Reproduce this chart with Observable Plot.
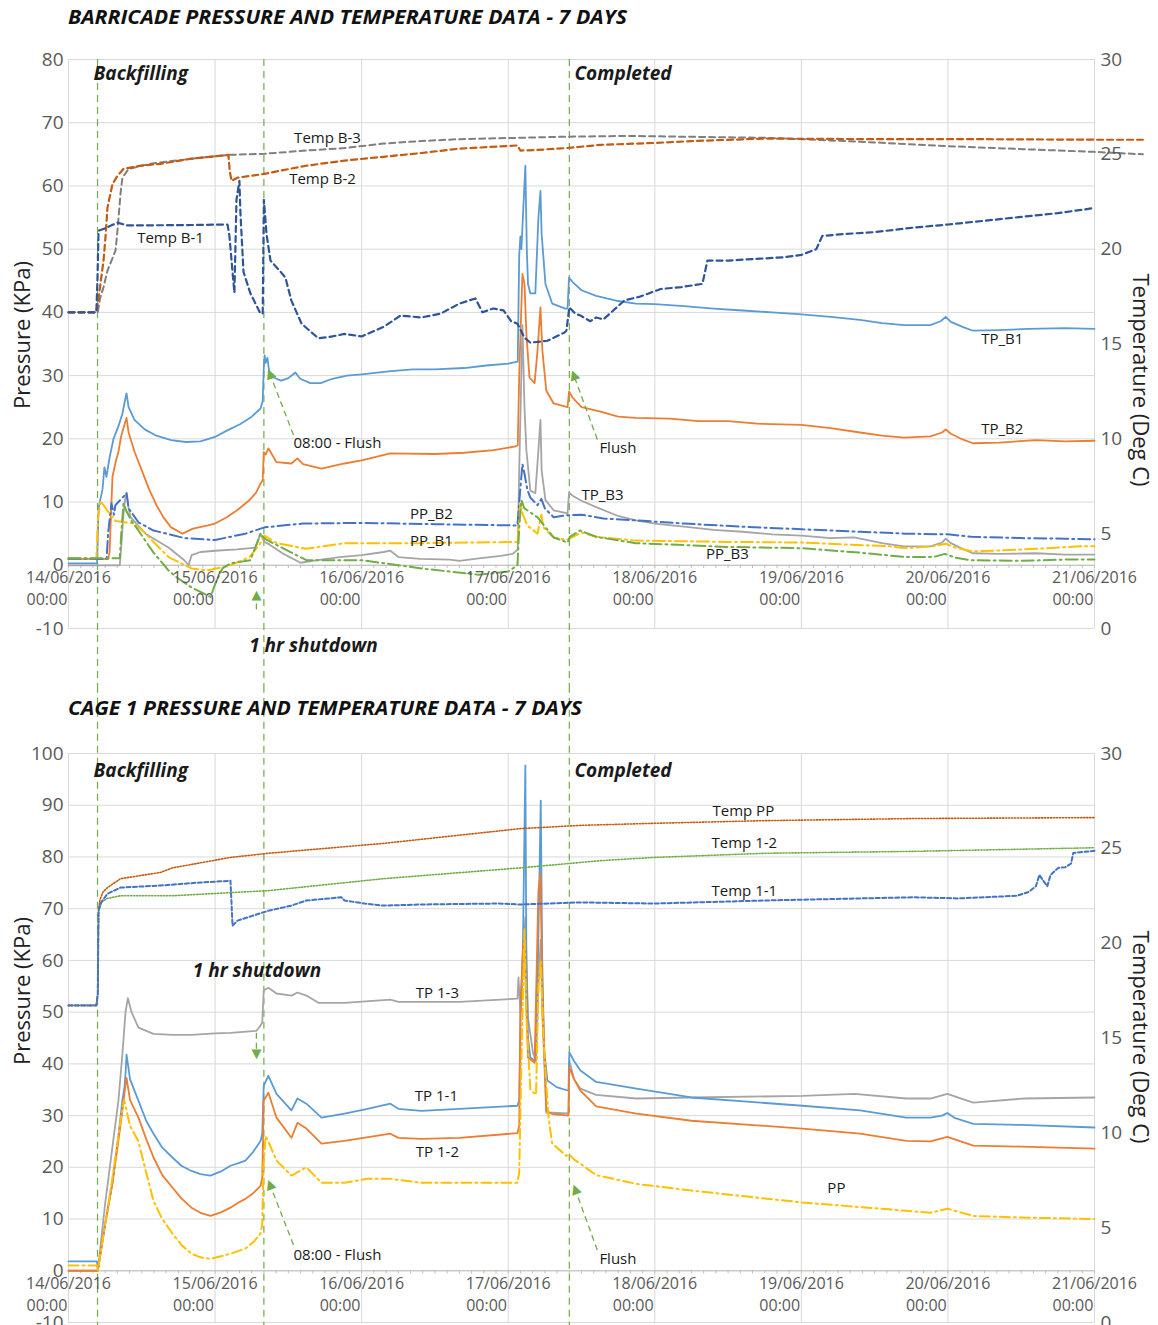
<!DOCTYPE html>
<html>
<head>
<meta charset="utf-8">
<script src="https://cdn.jsdelivr.net/npm/d3@7"></script>
<script src="https://cdn.jsdelivr.net/npm/@observablehq/plot@0.6"></script>
<style>
  body { margin: 0; background: #fff; }
  #wrap { position: relative; width: 1158px; height: 1325px; overflow: hidden; font-family: "Open Sans", sans-serif; }
  .title { position: absolute; left: 68px; font-weight: 700; font-style: italic; font-size: 20px; line-height: 1; color: #111; white-space: nowrap; transform-origin: left top; }
  #c1, #c2 { position: absolute; left: 0; }
  #c1 { top: 0; } #c2 { top: 690px; }
</style>
</head>
<body>
<div id="wrap">
  <div id="c1"></div>
  <div id="c2"></div>
  <div class="title" id="t1" style="top:7px">BARRICADE PRESSURE AND TEMPERATURE DATA - 7 DAYS</div>
  <div class="title" id="t2" style="top:698px">CAGE 1 PRESSURE AND TEMPERATURE DATA - 7 DAYS</div>
</div>
<script>
// ---------- time: days since 14/06/2016 00:00 ----------
const DAY0 = Date.UTC(2016, 5, 14);
const dt = t => new Date(DAY0 + t * 864e5);
const dayTicks = d3.range(0, 8).map(dt);
const minorTicks = d3.range(0, 7 * 12 + 1).map(i => dt(i / 12));
const events = [0.198, 1.333, 3.417]; // backfilling start, 08:00 flush, completed

// ---------- BARRICADE panel (pressure kPa, temperature °C) ----------
const TP_B1 = [[0,0.3],[0.195,0.3],[0.205,9],[0.218,10.5],[0.232,12],[0.245,15.5],[0.259,14],[0.28,17],[0.307,20],[0.341,22],[0.368,24],[0.389,26.5],[0.396,27.2],[0.41,25],[0.45,23],[0.52,21.5],[0.6,20.5],[0.7,19.8],[0.8,19.5],[0.9,19.6],[1.0,20.3],[1.08,21.3],[1.17,22.3],[1.25,23.5],[1.31,24.8],[1.325,26],[1.332,31],[1.338,33.2],[1.345,32],[1.357,32.8],[1.37,30.5],[1.4,29.7],[1.45,29.2],[1.5,29.6],[1.548,30.5],[1.58,29.5],[1.65,28.8],[1.72,28.8],[1.8,29.5],[1.9,30],[2.0,30.2],[2.2,30.7],[2.35,31],[2.5,31],[2.7,31.2],[2.85,31.6],[3.0,31.9],[3.065,32.2],[3.075,49],[3.083,52],[3.09,50],[3.1,55],[3.117,63.2],[3.127,49.8],[3.135,44.5],[3.151,43],[3.185,43],[3.206,55],[3.22,59.2],[3.228,52.4],[3.254,44.5],[3.3,41.4],[3.39,40.6],[3.405,40.6],[3.415,45.5],[3.44,44.8],[3.5,43.5],[3.6,42.6],[3.75,41.8],[3.87,41.4],[4.0,41.3],[4.2,41],[4.4,40.6],[4.6,40.3],[4.8,40],[5.0,39.7],[5.2,39.3],[5.4,38.8],[5.55,38.3],[5.7,38],[5.88,38],[5.95,38.6],[5.985,39.3],[6.02,38.5],[6.1,37.7],[6.17,37.1],[6.35,37.2],[6.55,37.4],[6.8,37.5],[7.0,37.4]];
const TP_B2 = [[0,1.0],[0.27,1.0],[0.28,2],[0.29,8],[0.3,14],[0.321,16.3],[0.341,18],[0.36,20.5],[0.385,22.5],[0.396,23.3],[0.41,21],[0.45,18],[0.5,15],[0.55,12],[0.6,9.5],[0.65,7.5],[0.7,6],[0.778,5],[0.85,5.8],[0.95,6.3],[1.0,6.6],[1.08,7.6],[1.15,8.7],[1.23,10.2],[1.28,11.5],[1.31,12.9],[1.325,13.5],[1.332,17.9],[1.345,17.5],[1.364,18.5],[1.419,16.3],[1.521,16.1],[1.562,16.9],[1.6,16],[1.726,15.3],[1.883,16.1],[2.0,16.6],[2.196,17.7],[2.5,17.6],[2.7,17.8],[2.9,18.2],[3.05,18.8],[3.065,19],[3.075,30],[3.083,36],[3.097,46.1],[3.111,44.5],[3.124,36.6],[3.145,29.7],[3.18,28.8],[3.2,34],[3.22,40.8],[3.233,34],[3.26,27.6],[3.31,25.6],[3.405,25],[3.415,27.5],[3.44,26.5],[3.5,25],[3.63,24.3],[3.75,23.5],[3.87,23.3],[4.1,23.2],[4.3,22.8],[4.5,22.8],[4.7,22.4],[5.0,22.2],[5.2,21.7],[5.4,21],[5.55,20.5],[5.7,20.2],[5.88,20.4],[5.96,21],[5.985,21.5],[6.02,20.8],[6.1,19.9],[6.17,19.3],[6.35,19.4],[6.6,19.8],[6.8,19.6],[7.0,19.7]];
const TP_B3 = [[0,0],[0.35,0],[0.36,3],[0.375,8],[0.389,11],[0.396,11.5],[0.41,9],[0.423,7.6],[0.525,5],[0.682,2.8],[0.79,0.8],[0.819,0],[0.84,1.6],[0.9,2.1],[1.0,2.3],[1.15,2.5],[1.276,2.8],[1.31,5],[1.32,4.5],[1.337,3.7],[1.37,3.3],[1.467,1.8],[1.583,0.4],[1.7,0.8],[1.85,1.3],[2.0,1.6],[2.15,2.1],[2.196,2.3],[2.251,1.3],[2.4,1.0],[2.6,0.9],[2.667,0.7],[2.8,1.1],[2.95,1.5],[3.03,1.8],[3.065,2.5],[3.075,15],[3.097,38],[3.111,25],[3.124,18.2],[3.151,11.8],[3.185,11.4],[3.206,18.2],[3.22,23],[3.228,15],[3.254,10.3],[3.31,8.7],[3.405,8.2],[3.415,11.5],[3.44,11],[3.5,10.2],[3.6,9.2],[3.75,7.8],[3.87,7.1],[4.0,6.6],[4.2,6.1],[4.4,5.6],[4.6,5.3],[4.8,4.9],[5.0,4.7],[5.2,4.3],[5.36,4.4],[5.55,3.5],[5.7,3],[5.88,3],[5.96,3.6],[5.985,4.2],[6.02,3.5],[6.1,2.6],[6.17,1.9],[6.35,1.8],[6.6,1.9],[6.8,1.7],[7.0,1.7]];
const PP_B2 = [[0,1.0],[0.26,1.0],[0.27,5],[0.293,9.8],[0.31,8],[0.32,9.5],[0.396,11.4],[0.41,9],[0.477,6.8],[0.58,5.5],[0.792,4.3],[1.0,4],[1.207,5],[1.337,6],[1.6,6.6],[2.0,6.7],[2.5,6.5],[3.063,6.3],[3.075,10],[3.097,16],[3.111,14.5],[3.13,12],[3.151,10.7],[3.2,9.5],[3.226,10.5],[3.25,9],[3.31,7.6],[3.397,7.9],[3.5,8],[3.65,7.4],[3.87,7.1],[4.2,6.6],[4.6,6.1],[5.0,5.7],[5.4,5.3],[5.71,5],[6.0,4.9],[6.16,4.5],[6.5,4.3],[6.8,4.2],[7.0,4.1]];
const PP_B1 = [[0,1.1],[0.19,1.1],[0.2,7],[0.218,10.2],[0.266,8.6],[0.321,7],[0.45,6.6],[0.525,5],[0.682,1.3],[0.839,-0.5],[0.95,-0.8],[1.105,0],[1.235,1.3],[1.31,3.5],[1.337,4.7],[1.419,3.5],[1.623,2.6],[1.883,3.5],[2.408,3.5],[3.063,3.7],[3.075,7],[3.083,9.8],[3.1,8],[3.13,6.3],[3.2,5],[3.226,8],[3.24,6],[3.31,4.4],[3.397,4],[3.42,4.2],[3.5,5.2],[3.6,4.5],[3.87,3.9],[4.2,3.8],[4.5,3.7],[5.0,3.6],[5.3,3.3],[5.6,3],[5.71,2.7],[5.9,3],[5.985,3.4],[6.05,2.8],[6.16,2.2],[6.3,2.3],[6.6,2.6],[6.9,3],[7.0,3.0]];
const PP_B3 = [[0,1.1],[0.35,1.1],[0.36,5],[0.375,9.8],[0.396,8.5],[0.43,7],[0.477,5.5],[0.58,2],[0.682,-0.8],[0.737,-1.9],[0.839,-3.5],[0.969,-5],[1.0,-3],[1.05,-0.5],[1.105,0.3],[1.241,0.8],[1.31,5],[1.337,4.2],[1.521,2],[1.623,0.8],[2.0,0.8],[2.408,-0.5],[2.8,-1.5],[3.0,-1],[3.063,0],[3.075,6],[3.09,10.3],[3.11,9],[3.2,7.6],[3.254,6],[3.31,4.4],[3.405,3.6],[3.42,4.5],[3.49,5.5],[3.6,4.5],[3.87,3.5],[4.2,3.2],[4.5,2.9],[5.0,2.7],[5.4,2],[5.71,1.3],[5.9,1.3],[5.98,1.8],[6.05,1.2],[6.16,0.8],[6.5,0.7],[6.8,0.9],[7.0,0.9]];
const TEMP_B1 = [[0,16.67],[0.19,16.67],[0.198,18.5],[0.205,20.97],[0.25,21.1],[0.334,21.4],[0.4,21.25],[0.8,21.27],[1.085,21.3],[1.098,20.7],[1.119,18.8],[1.132,17.7],[1.146,22.6],[1.166,23.6],[1.173,21.9],[1.194,18.8],[1.241,17.67],[1.31,16.6],[1.325,16.6],[1.333,22.6],[1.351,20.8],[1.378,19.4],[1.44,18.87],[1.48,18.5],[1.52,17.3],[1.59,16.07],[1.705,15.3],[1.8,15.4],[1.883,15.53],[2.0,15.4],[2.149,15.9],[2.265,16.5],[2.408,16.4],[2.538,16.6],[2.667,17.13],[2.776,17.4],[2.824,16.67],[2.897,16.87],[2.968,16.77],[3.02,16.2],[3.063,16.07],[3.111,15.33],[3.151,15.07],[3.267,15.17],[3.383,15.6],[3.397,15.7],[3.417,16.93],[3.458,16.6],[3.493,16.5],[3.56,16.2],[3.6,16.4],[3.65,16.3],[3.793,17.3],[3.9,17.5],[4.04,17.9],[4.18,18.0],[4.325,18.17],[4.359,19.4],[4.5,19.4],[4.72,19.5],[4.877,19.57],[5.0,19.7],[5.102,20.0],[5.143,20.7],[5.3,20.8],[5.5,20.9],[5.757,21.13],[6.0,21.3],[6.25,21.5],[6.5,21.7],[6.75,21.9],[7.0,22.17]];
const TEMP_B2 = [[0,16.67],[0.19,16.67],[0.205,17.4],[0.218,18.17],[0.239,19.4],[0.252,20.6],[0.266,22.2],[0.3,23.43],[0.334,23.87],[0.375,24.23],[0.491,24.4],[0.628,24.5],[0.839,24.77],[1.091,24.97],[1.1,24.13],[1.112,23.6],[1.153,23.77],[1.337,23.97],[1.44,24.13],[1.623,24.4],[1.883,24.67],[2.149,24.87],[2.408,25.07],[2.667,25.3],[3.063,25.47],[3.083,25.2],[3.192,25.23],[3.397,25.33],[3.629,25.5],[4.0,25.6],[4.25,25.7],[4.754,25.83],[5.5,25.8],[6.2,25.8],[7.0,25.77],[7.33,25.77]];
const TEMP_B3 = [[0,16.67],[0.2,16.67],[0.215,17.4],[0.239,18.0],[0.266,18.87],[0.321,19.93],[0.334,20.97],[0.355,22.93],[0.368,23.77],[0.41,24.23],[0.559,24.5],[0.839,24.77],[1.091,24.97],[1.337,25.03],[1.623,25.2],[1.883,25.33],[2.149,25.57],[2.408,25.7],[2.667,25.8],[3.063,25.87],[3.397,25.93],[3.8,25.97],[4.2,25.93],[4.754,25.87],[5.0,25.8],[5.5,25.63],[6.0,25.43],[6.52,25.27],[7.0,25.13],[7.33,25.0]];

// ---------- CAGE 1 panel ----------
const TP_1_1 = [[0,1.8],[0.195,1.8],[0.2,0],[0.25,9],[0.3,17],[0.34,26],[0.368,33],[0.382,35.5],[0.389,38],[0.396,41.8],[0.42,37],[0.477,32.9],[0.53,29],[0.58,26.5],[0.64,23.8],[0.709,21.9],[0.77,20.3],[0.839,19.3],[0.9,18.7],[0.969,18.4],[1.04,19.2],[1.105,20.3],[1.16,20.8],[1.207,21.3],[1.26,23],[1.31,25.1],[1.322,26.5],[1.332,35.8],[1.364,37.7],[1.419,34.2],[1.521,31],[1.562,33.3],[1.623,32.3],[1.726,29.6],[1.883,30.4],[2.04,31.3],[2.196,32.3],[2.251,31.3],[2.408,30.9],[2.667,31.3],[3.063,31.9],[3.075,33],[3.085,50],[3.1,62],[3.117,97.7],[3.124,60],[3.135,45],[3.151,41.2],[3.185,40.6],[3.2,55],[3.222,90.9],[3.232,60],[3.245,42.6],[3.267,36.8],[3.33,35.5],[3.411,34.8],[3.417,42.2],[3.45,40.5],[3.493,38.7],[3.6,36.5],[3.875,35.2],[4.25,33.5],[5.007,31.9],[5.4,31],[5.716,29.6],[5.88,29.6],[5.96,30],[5.996,30.5],[6.05,29.5],[6.173,28.4],[6.5,28.2],[7.0,27.7]];
const TP_1_2 = [[0,0],[0.2,0],[0.25,9],[0.3,17],[0.34,25],[0.368,31],[0.389,36],[0.396,37.3],[0.42,33],[0.477,29.6],[0.53,25.5],[0.58,21.9],[0.64,18.5],[0.709,16.1],[0.77,14],[0.839,12.2],[0.9,11.2],[0.969,10.6],[1.04,11.3],[1.105,12.2],[1.16,13.2],[1.207,13.9],[1.26,15],[1.31,16.4],[1.322,18],[1.332,32.9],[1.364,34.4],[1.419,29.6],[1.521,25.7],[1.562,28.6],[1.623,27.5],[1.726,24.6],[1.883,25.1],[2.196,26.5],[2.251,25.7],[2.408,25.5],[2.667,25.7],[3.063,26.6],[3.075,28],[3.083,50],[3.1,61.9],[3.111,64.4],[3.12,55],[3.135,41.2],[3.18,40.2],[3.206,73.5],[3.22,76.8],[3.232,55],[3.26,30.9],[3.3,30.3],[3.411,30],[3.417,39.3],[3.45,37],[3.493,34.8],[3.6,31.8],[3.875,30.4],[4.25,29],[5.007,27.5],[5.4,26.5],[5.716,25.1],[5.88,25],[5.996,25.9],[6.173,24.2],[6.5,24],[7.0,23.6]];
const TP_1_3 = [[0,0],[0.2,0],[0.25,13],[0.3,24],[0.341,33],[0.368,42],[0.389,50],[0.405,52.7],[0.43,50],[0.477,47],[0.58,45.8],[0.709,45.6],[0.839,45.6],[1.0,45.9],[1.105,46],[1.282,46.4],[1.31,47.4],[1.322,48],[1.332,54.2],[1.364,54.7],[1.419,53.6],[1.521,53.2],[1.562,53.8],[1.623,53.2],[1.705,51.8],[1.883,51.8],[2.196,52.4],[2.251,52],[2.667,52],[3.063,52.6],[3.07,56.7],[3.083,50],[3.1,60],[3.117,68.3],[3.135,48.9],[3.17,42],[3.19,40.6],[3.206,55],[3.222,64],[3.232,50],[3.26,30.6],[3.411,30.4],[3.417,40.6],[3.45,37],[3.493,35.2],[3.6,34],[3.875,33.3],[4.25,33.5],[5.007,33.8],[5.362,34.2],[5.716,33.3],[5.88,33.3],[5.996,34.2],[6.173,32.5],[6.52,33.3],[7.0,33.5]];
const PP_1 = [[0,1],[0.195,1],[0.2,0],[0.25,9],[0.3,18],[0.34,26],[0.368,31.5],[0.38,33],[0.396,31],[0.42,28],[0.477,25],[0.53,19],[0.58,13.5],[0.64,10],[0.709,7.2],[0.77,5],[0.839,3.3],[0.9,2.6],[0.969,2.3],[1.04,2.8],[1.105,3.3],[1.207,4.3],[1.26,5.5],[1.31,7.2],[1.322,9],[1.33,20],[1.345,26],[1.364,25],[1.419,21.3],[1.521,18.4],[1.623,20],[1.726,17],[1.883,17],[2.04,17.8],[2.196,17.8],[2.408,17],[2.667,17],[3.063,17],[3.075,19],[3.09,40],[3.111,66],[3.124,48.9],[3.151,35],[3.19,34],[3.206,55],[3.222,60],[3.24,45],[3.275,29.6],[3.3,24.6],[3.397,22.2],[3.417,22.5],[3.45,21.5],[3.493,20.7],[3.6,18.5],[3.875,16.8],[4.25,15.5],[5.007,13.2],[5.716,11.6],[5.88,11.2],[5.996,12],[6.173,10.6],[6.5,10.3],[7.0,10]];
const TEMP_PP = [[0,16.72],[0.19,16.72],[0.2,17.35],[0.205,21.71],[0.215,22.3],[0.235,22.7],[0.266,22.93],[0.355,23.4],[0.628,23.73],[0.709,23.97],[1.105,24.52],[1.364,24.74],[2.149,25.26],[3.083,26.04],[3.493,26.21],[3.997,26.32],[4.754,26.46],[5.764,26.57],[7.0,26.62]];
const TEMP_1_2 = [[0,16.72],[0.19,16.72],[0.2,17.35],[0.205,21.71],[0.23,22.2],[0.266,22.36],[0.355,22.5],[0.709,22.5],[1.364,22.77],[2.149,23.4],[3.083,23.97],[3.629,24.35],[3.997,24.52],[4.754,24.74],[5.764,24.84],[7.0,25.03]];
const TEMP_1_1 = [[0,16.72],[0.19,16.72],[0.2,17.35],[0.205,21.71],[0.218,22.09],[0.266,22.61],[0.355,22.93],[0.628,23.04],[0.9,23.2],[1.105,23.29],[1.11,22.5],[1.119,20.92],[1.153,21.19],[1.364,21.71],[1.521,21.98],[1.623,22.25],[1.78,22.36],[1.862,22.42],[1.883,22.25],[2.019,22.09],[2.149,21.98],[2.408,22.04],[2.933,22.09],[3.083,22.04],[3.493,22.15],[3.997,22.09],[4.754,22.25],[5.764,22.42],[6.071,22.36],[6.473,22.5],[6.55,22.7],[6.6,23.0],[6.624,23.6],[6.65,23.3],[6.678,23.0],[6.7,23.6],[6.753,23.97],[6.8,24.0],[6.84,24.2],[6.855,24.76],[7.0,24.87]];

// ---------- annotations ----------
const topLabels = [
  {t:1.767, v:67.6, text:"Temp B-3"}, {t:1.733, v:61, text:"Temp B-2"}, {t:0.696, v:51.7, text:"Temp B-1"},
  {t:6.371, v:35.7, text:"TP_B1"}, {t:6.371, v:21.5, text:"TP_B2"}, {t:3.643, v:11.1, text:"TP_B3"},
  {t:2.476, v:8.1, text:"PP_B2"}, {t:2.476, v:3.8, text:"PP_B1"}, {t:4.495, v:1.7, text:"PP_B3"}
];
const topNotes = [{t:1.535, v:19.3, text:"08:00 - Flush"}, {t:3.622, v:18.5, text:"Flush"}];
const topPhases = [{t:0.171, v:77.7, text:"Backfilling"}, {t:3.452, v:77.7, text:"Completed"}];
const topShutdown = [{t:1.671, v:-12.7, text:"1 hr shutdown"}];
const topArrows = [
  {t1:1.535, v1:20.6, t2:1.372, v2:30.4, rot:-21},
  {t1:3.608, v1:19.9, t2:3.445, v2:30.2, rot:-20},
  {t1:1.282, v1:-7.0, t2:1.282, v2:-4.6, rot:0}
];
const botLabels = [
  {t:4.604, v:88.8, text:"Temp PP"}, {t:4.611, v:82.6, text:"Temp 1-2"}, {t:4.611, v:73.3, text:"Temp 1-1"},
  {t:2.517, v:53.6, text:"TP 1-3"}, {t:2.510, v:33.7, text:"TP 1-1"}, {t:2.517, v:22.9, text:"TP 1-2"},
  {t:5.239, v:15.9, text:"PP"}
];
const botNotes = [{t:1.535, v:3.0, text:"08:00 - Flush"}, {t:3.622, v:2.2, text:"Flush"}];
const botPhases = [{t:0.171, v:96.7, text:"Backfilling"}, {t:3.452, v:96.7, text:"Completed"}];
const botShutdown = [{t:1.286, v:58.0, text:"1 hr shutdown"}];
const botArrows = [
  {t1:1.282, v1:46.0, t2:1.282, v2:41.6, rot:180},
  {t1:1.535, v1:5.0, t2:1.372, v2:16.8, rot:-21},
  {t1:3.608, v1:4.0, t2:3.455, v2:15.9, rot:-20}
];

// ---------- colours ----------
const C = {blue:"#5b9bd5", orange:"#ed7d31", grey:"#a5a5a5", yellow:"#ffc000", dblue:"#4472c4", green:"#70ad47",
           navy:"#2f5597", brown:"#c55a11", dgrey:"#7f7f7f", grid:"#d9d9d9", axis:"#595959", text:"#1a1a1a"};
const FONT = "'Open Sans', sans-serif";

const pts = (arr, f = v => v) => arr.map(([t, v]) => ({date: dt(t), y: f(v)}));
const line = (arr, stroke, strokeWidth, strokeDasharray, f) =>
  Plot.line(pts(arr, f), {x: "date", y: "y", stroke, strokeWidth, strokeDasharray, strokeLinejoin: "round"});

function panel({yMax, tempToP, pToTemp, height, marginTop, marginBottom, ruleTop, ruleBottom,
                series, labels, notes, phases, shutdown, arrows, leftDy, rightDy}) {
  const leftTicks = d3.range(-10, yMax + 1, 10);
  const rightTicks = d3.range(0, 31, 5).map(tempToP);
  return Plot.plot({
    width: 1158, height, marginLeft: 68, marginRight: 64, marginTop, marginBottom,
    style: {fontFamily: FONT, background: "transparent"},
    x: {type: "utc", domain: [dt(0), dt(7)], axis: null},
    y: {domain: [-10, yMax], axis: null},
    marks: [
      Plot.ruleY(leftTicks, {stroke: C.grid, strokeWidth: 1}),
      Plot.ruleX(dayTicks, {y1: -10, y2: yMax, stroke: C.grid, strokeWidth: 1}),
      Plot.ruleY([0], {stroke: "#bfbfbf", strokeWidth: 1}),
      Plot.ruleX(minorTicks, {y1: 0, y2: -(yMax + 10) / 180, stroke: "#bfbfbf", strokeWidth: 1}),
      Plot.ruleX(events.map(dt), {y1: ruleTop, y2: ruleBottom, stroke: C.green, strokeWidth: 1.2, strokeDasharray: "7,5"}),
      ...series,
      Plot.axisY(leftTicks, {anchor: "left", tickSize: 0, tickPadding: 5, fontSize: 19, color: C.axis, label: null,
                             tickFormat: d => String(d)}),
      Plot.axisY(rightTicks, {anchor: "right", tickSize: 0, tickPadding: 6, fontSize: 19, color: C.axis, label: null,
                              tickFormat: p => String(Math.round(pToTemp(p)))}),
      Plot.text(["Pressure (KPa)"], {frameAnchor: "left", textAnchor: "middle", dx: -46, dy: leftDy, rotate: -90, fontSize: 22, fill: "#222"}),
      Plot.text(["Temperature (Deg C)"], {frameAnchor: "right", textAnchor: "middle", dx: 46, dy: rightDy, rotate: 90, fontSize: 22, fill: "#222"}),
      Plot.text(dayTicks, {x: d => d, y: 0, text: d3.utcFormat("%d/%m/%Y"), dy: 13, fontSize: 16, fill: C.axis}),
      Plot.text(dayTicks, {x: d => d, y: 0, text: () => "00:00", dy: 35, dx: -42, textAnchor: "start", fontSize: 16, fill: C.axis}),
      Plot.link(arrows, {x1: d => dt(d.t1), y1: "v1", x2: d => dt(d.t2), y2: "v2", stroke: C.green, strokeWidth: 1.3, strokeDasharray: "6,4"}),
      Plot.text(arrows, {x: d => dt(d.t2), y: "v2", text: () => "▲", rotate: "rot", fill: C.green, fontSize: 13, fontFamily: "DejaVu Sans"}),
      Plot.text(labels, {x: d => dt(d.t), y: "v", text: "text", fontSize: 15, fill: C.text}),
      Plot.text(notes, {x: d => dt(d.t), y: "v", text: "text", fontSize: 15, fill: C.text, textAnchor: "start"}),
      Plot.text(phases, {x: d => dt(d.t), y: "v", text: "text", fontSize: 19, fontWeight: "bold", fontStyle: "italic", fill: C.text, textAnchor: "start"}),
      Plot.text(shutdown, {x: d => dt(d.t), y: "v", text: "text", fontSize: 19, fontWeight: "bold", fontStyle: "italic", fill: C.text})
    ]
  });
}

const tTop = T => T * 3 - 10, pTop = p => (p + 10) / 3;
const tBot = T => T * 110 / 30 - 10, pBot = p => (p + 10) * 30 / 110;

const chartTop = panel({
  yMax: 80, tempToP: tTop, pToTemp: pTop, height: 690, marginTop: 59, marginBottom: 62,
  ruleTop: 80, ruleBottom: -20, leftDy: -9, rightDy: 36,
  series: [
    line(TP_B1, C.blue, 1.8), line(TP_B2, C.orange, 1.8), line(TP_B3, C.grey, 1.8),
    line(PP_B2, C.dblue, 2, "12,4,2,4"), line(PP_B1, C.yellow, 2, "12,4,2,4"), line(PP_B3, C.green, 2, "12,4,2,4"),
    line(TEMP_B3, C.dgrey, 2, "6,4", tTop), line(TEMP_B2, C.brown, 2.2, "6,4", tTop), line(TEMP_B1, C.navy, 2.2, "6,4", tTop)
  ],
  labels: topLabels, notes: topNotes, phases: topPhases, shutdown: topShutdown, arrows: topArrows
});
const chartBottom = panel({
  yMax: 100, tempToP: tBot, pToTemp: pBot, height: 635, marginTop: 63, marginBottom: 3,
  ruleTop: 113, ruleBottom: -11, leftDy: -47, rightDy: -1,
  series: [
    line(TP_1_3, C.grey, 1.8), line(TP_1_1, C.blue, 1.8), line(TP_1_2, C.orange, 1.8),
    line(PP_1, C.yellow, 2, "10,4,2,4"),
    line(TEMP_PP, C.brown, 1.6, "1.3,1.7", tBot), line(TEMP_1_2, C.green, 1.6, "1.3,1.7", tBot), line(TEMP_1_1, C.dblue, 2, "4,2.5", tBot)
  ],
  labels: botLabels, notes: botNotes, phases: botPhases, shutdown: botShutdown, arrows: botArrows
});
document.getElementById("c1").append(chartTop);
document.getElementById("c2").append(chartBottom);

// fit the condensed titles to the reference widths
[["t1", 559], ["t2", 514]].forEach(([id, w]) => {
  const el = document.getElementById(id);
  const cur = el.getBoundingClientRect().width;
  if (cur > 0) el.style.transform = `scaleX(${w / cur})`;
});
</script>
</body>
</html>
